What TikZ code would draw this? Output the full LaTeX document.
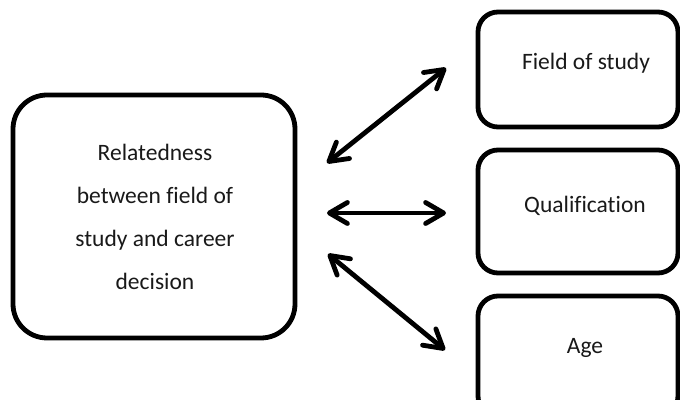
\documentclass[tikz,border=0pt]{standalone}
\usepackage{fontspec}
\setmainfont{Carlito}[Ligatures={NoCommon}]
\usetikzlibrary{arrows.meta}
\tikzset{
  bigbox/.style={draw=black, line width=2.4pt, rounded corners=17pt, minimum width=141pt, minimum height=121.5pt, inner sep=0pt},
  smallbox/.style={draw=black, line width=2.4pt, rounded corners=10pt, minimum width=100pt, inner sep=0pt},
  lbl/.style={font=\fontsize{11.75}{21.5}\selectfont, align=center, inner sep=0pt, text=black!90},
  dblarrow/.style={line width=2.4pt, line cap=round, {Straight Barb[length=9pt, width=10.5pt, round]}-{Straight Barb[length=9pt, width=10.5pt, round]}}
}
\begin{document}
\begin{tikzpicture}[x=0.5pt, y=-0.5pt]
\clip (0,0) rectangle (680,400);
\fill[white] (0,0) rectangle (680,400);
% left box
\node[bigbox] (L) at (154,216.5) {};
\node[lbl] (Lt) at (155,217) {Relatedness\\between field of\\study and career\\decision};
% right boxes
\node[smallbox, minimum height=57.5pt] (F) at (578,69.5) {};
\node[smallbox, minimum height=61.5pt] (Q) at (578,211.5) {};
\node[smallbox, minimum height=60pt] (A) at (578,356) {};
\node[lbl] (Ft) at (586,63) {Field of study};
\node[lbl] (Qt) at (585,206) {Qualification};
\node[lbl] (At) at (585,348) {Age};
% arrows
\coordinate (a1s) at (327,163);
\coordinate (a1e) at (446,68);
\coordinate (a2s) at (327,213);
\coordinate (a2e) at (446,213);
\coordinate (a3s) at (328,254);
\coordinate (a3e) at (445,350);
\draw[dblarrow] (a1s) -- (a1e);
\draw[dblarrow] (a2s) -- (a2e);
\draw[dblarrow] (a3s) -- (a3e);
\end{tikzpicture}
\end{document}
